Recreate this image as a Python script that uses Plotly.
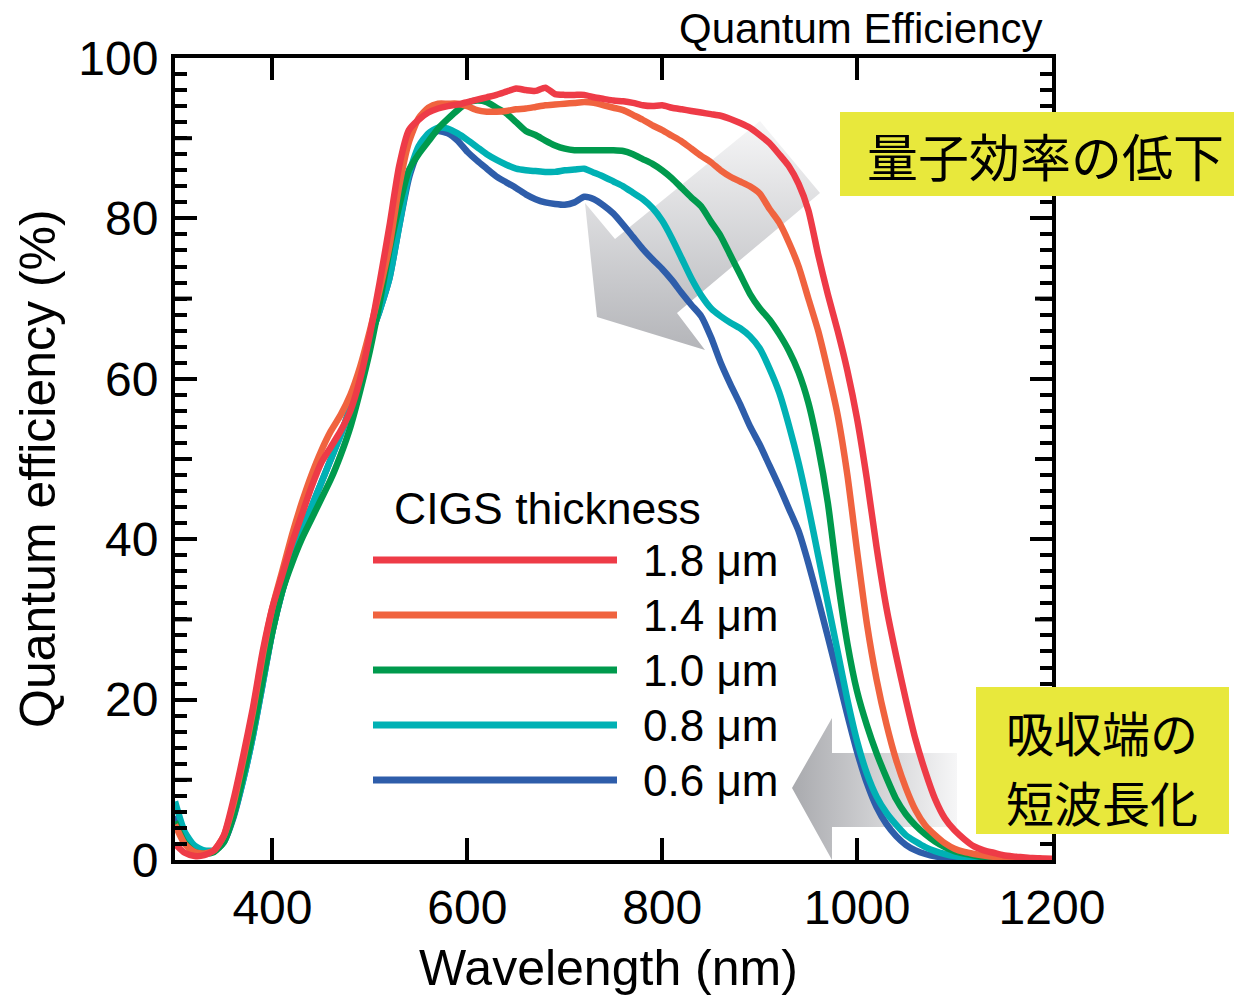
import plotly.graph_objects as go

# ---------------------------------------------------------------------------
# Data: external quantum efficiency (%) of CIGS cells vs. wavelength (nm)
# ---------------------------------------------------------------------------
wavelength_nm = list(range(300, 1201, 10))

qe_1p8um = [
    2.0, 0.9, 0.5, 0.6, 1.2, 3.0, 7.5, 13.0, 19.0, 26.0,
    31.5, 35.5, 39.5, 43.0, 46.5, 49.5, 51.5, 53.5, 56.0, 60.0,
    65.5, 72.0, 79.0, 86.5, 91.0, 92.3, 93.2, 93.7, 94.0, 94.2,
    94.5, 94.8, 95.1, 95.4, 95.8, 96.2, 96.0, 95.9, 96.3, 95.5,
    95.4, 95.4, 95.4, 95.1, 94.9, 94.7, 94.6, 94.4, 94.1, 94.0,
    94.1, 93.8, 93.6, 93.4, 93.2, 93.0, 92.8, 92.4, 91.9, 91.3,
    90.4, 89.4, 88.0, 86.5, 84.3, 81.0, 75.5, 70.5, 66.0, 61.0,
    55.0, 47.5, 39.0, 31.5, 25.5, 20.0, 15.0, 11.0, 7.6, 5.2,
    3.7, 2.6, 1.7, 1.2, 0.9, 0.6, 0.45, 0.35, 0.25, 0.2,
    0.15,
]

qe_1p4um = [
    4.4, 2.0, 1.0, 0.8, 1.2, 3.0, 7.0, 12.5, 18.5, 25.5,
    31.5, 36.0, 40.5, 44.5, 48.0, 51.0, 53.5, 55.5, 58.0, 61.5,
    66.0, 71.0, 76.5, 84.0, 89.5, 92.5, 93.8, 94.3, 94.3, 94.3,
    94.0, 93.5, 93.3, 93.3, 93.4, 93.6, 93.7, 93.9, 94.1, 94.2,
    94.3, 94.4, 94.5, 94.4, 94.1, 93.8, 93.5, 92.9, 92.3, 91.6,
    91.0, 90.3, 89.6, 88.7, 87.8, 87.0, 86.0, 85.2, 84.6, 84.0,
    83.1, 81.2, 79.5, 77.0, 74.0, 70.0, 66.0, 61.0, 55.5, 48.0,
    38.5, 29.5, 22.5, 17.0, 12.5, 9.0, 6.2, 4.3, 3.1, 2.1,
    1.4, 1.0, 0.75, 0.55, 0.4, 0.3, 0.25, 0.2, 0.15, 0.12,
    0.1,
]

qe_1p0um = [
    4.8, 2.2, 1.0, 0.8, 1.0, 2.2, 5.5, 10.5, 16.0, 22.5,
    28.5, 33.5, 37.0, 40.0, 42.5, 45.0, 47.5, 50.5, 54.0, 58.5,
    63.5, 69.5, 76.0, 81.5, 86.0, 88.0, 89.6, 91.2, 92.4, 93.5,
    94.4, 94.7, 94.5, 93.8, 93.1, 92.0, 90.9, 90.4, 89.7, 89.1,
    88.7, 88.5, 88.5, 88.5, 88.5, 88.5, 88.4, 88.0, 87.4, 86.8,
    86.0, 85.0, 83.8, 82.6, 81.5, 79.6, 77.8, 75.4, 73.0, 70.6,
    68.8, 67.4, 65.6, 63.5, 60.8, 57.0, 51.5, 44.5, 35.0, 27.0,
    21.0, 16.8, 13.3, 10.3, 7.6, 5.7, 4.3, 3.2, 2.3, 1.6,
    1.1, 0.8, 0.55, 0.35, 0.25, 0.2, 0.15, 0.1, 0.08, 0.06,
    0.05,
]

qe_0p8um = [
    7.3, 3.5, 1.8, 1.2, 1.2, 2.3, 5.5, 10.0, 15.5, 22.0,
    28.5, 33.5, 37.5, 41.0, 44.0, 47.0, 50.0, 53.0, 56.5, 60.5,
    65.0, 68.5, 72.5, 79.0, 85.5, 89.0, 90.6, 91.3, 91.2, 90.6,
    89.8, 88.9, 88.0, 87.3, 86.7, 86.2, 86.0, 85.9, 85.8, 85.8,
    86.0, 86.1, 86.2, 85.7, 85.2, 84.6, 84.0, 83.2, 82.4, 81.3,
    79.7, 77.5, 75.0, 72.5, 70.4, 68.8, 67.8, 67.0, 66.3, 65.3,
    63.8, 61.3, 58.3, 54.2, 49.5, 44.0, 38.0, 32.0, 26.0, 20.0,
    14.8, 10.8, 7.9, 5.9, 4.4, 3.1, 2.3, 1.6, 1.1, 0.75,
    0.5, 0.35, 0.25, 0.18, 0.12, 0.1, 0.08, 0.06, 0.05, 0.04,
    0.03,
]

qe_0p6um = [
    5.5, 2.8, 1.4, 1.0, 1.1, 2.2, 5.3, 10.0, 15.5, 22.0,
    28.5, 33.5, 37.5, 41.0, 44.0, 47.0, 50.0, 53.0, 56.5, 60.5,
    65.0, 68.5, 72.5, 79.0, 85.0, 88.5, 90.3, 90.9, 90.6, 89.7,
    88.3, 87.2, 86.2, 85.2, 84.5, 83.8, 83.0, 82.4, 82.0, 81.8,
    81.7, 82.0, 82.7, 82.4, 81.6, 80.6, 79.2, 77.7, 76.2, 74.9,
    73.7, 72.3, 70.7, 69.2, 67.8, 65.2, 62.0, 59.3, 56.8, 54.1,
    51.8, 49.2, 46.6, 43.8, 41.0, 37.0, 32.5, 27.8, 23.0, 18.1,
    13.5, 9.6, 6.6, 4.5, 3.0, 1.9, 1.2, 0.75, 0.45, 0.3,
    0.2, 0.13, 0.1, 0.08, 0.06, 0.05, 0.04, 0.03, 0.02, 0.02,
    0.02,
]

thickness_labels = ["1.8 μm", "1.4 μm", "1.0 μm", "0.8 μm", "0.6 μm"]
thickness_series = [qe_1p8um, qe_1p4um, qe_1p0um, qe_0p8um, qe_0p6um]
thickness_colors = ["#EE3B47", "#F0633F", "#009A4D", "#00B1B4", "#2E5DAA"]

x_tick_values = [400, 600, 800, 1000, 1200]
y_tick_values = [0, 20, 40, 60, 80, 100]

# ---------------------------------------------------------------------------
# Layout geometry (pixels)
# ---------------------------------------------------------------------------
W, H = 1234, 997
PLOT_L, PLOT_R, PLOT_T, PLOT_B = 175, 1052, 58, 860
X_RANGE = [300, 1200]
Y_RANGE = [0, 100]
FONT = "Liberation Sans, Arial, Helvetica, sans-serif"
CJK_FONT = "Noto Sans CJK JP, sans-serif"


def px_to_data(px, py):
    x = X_RANGE[0] + (px - PLOT_L) * (X_RANGE[1] - X_RANGE[0]) / (PLOT_R - PLOT_L)
    y = Y_RANGE[0] + (PLOT_B - py) * (Y_RANGE[1] - Y_RANGE[0]) / (PLOT_B - PLOT_T)
    return x, y


def px_to_paper(px, py):
    return (px - PLOT_L) / (PLOT_R - PLOT_L), (PLOT_B - py) / (PLOT_B - PLOT_T)


def arrow_trace(outline_px, gradient, dark, light):
    pts = [px_to_data(*p) for p in outline_px]
    pts.append(pts[0])
    return go.Scatter(
        x=[p[0] for p in pts], y=[p[1] for p in pts],
        mode="lines", line=dict(width=0, color="rgba(0,0,0,0)"),
        fill="toself",
        fillgradient=dict(type=gradient, colorscale=[[0, dark], [1, light]]),
        hoverinfo="skip", showlegend=False,
    )


fig = go.Figure()

# Gray arrows behind the curves
big_arrow = [(597, 317), (585, 203), (615, 239), (760, 121),
             (820, 193), (677, 313), (705, 350)]
left_arrow = [(792, 788), (832, 718), (832, 753), (957, 753),
              (957, 827), (832, 827), (832, 860)]
fig.add_trace(arrow_trace(big_arrow, "vertical", "#B4B5B9", "#F6F6F7"))
fig.add_trace(arrow_trace(left_arrow, "horizontal", "#A9AAAE", "#F6F6F7"))

# QE curves (thinnest first so the thick-absorber curve sits on top)
for label, qe, color in reversed(list(zip(thickness_labels, thickness_series, thickness_colors))):
    fig.add_trace(go.Scatter(
        x=wavelength_nm, y=qe, name=label, mode="lines",
        line=dict(color=color, width=6.5, shape="spline", smoothing=0.6),
        showlegend=False, hoverinfo="skip",
    ))

shapes = []
annotations = []

# Medium (10 %) tick marks on both vertical sides
for v in [10, 30, 50, 70, 90]:
    for anchor, a, b in [(0, 0, 17), (1, -17, 0)]:
        shapes.append(dict(type="line", xref="paper", yref="y", xsizemode="pixel",
                           xanchor=anchor, x0=a, x1=b, y0=v, y1=v,
                           line=dict(color="black", width=4)))

# Hand-drawn legend
legend_y_px = [560, 615, 670, 725, 780]
lx0, _ = px_to_paper(373, 0)
lx1, _ = px_to_paper(617, 0)
tx, _ = px_to_paper(641, 0)
for label, color, ypx in zip(thickness_labels, thickness_colors, legend_y_px):
    _, yp = px_to_paper(0, ypx)
    shapes.append(dict(type="line", xref="paper", yref="paper", x0=lx0, x1=lx1,
                       y0=yp, y1=yp, line=dict(color=color, width=7)))
    annotations.append(dict(text=label, xref="paper", yref="paper", x=tx, y=yp,
                            xanchor="left", yanchor="middle", showarrow=False,
                            font=dict(family=FONT, size=44, color="black")))
cx, cy = px_to_paper(392, 508)
annotations.append(dict(text="CIGS thickness", xref="paper", yref="paper", x=cx, y=cy,
                        xanchor="left", yanchor="middle", showarrow=False,
                        font=dict(family=FONT, size=44.5, color="black")))

# Yellow callout boxes
box1 = (840, 112, 1234, 196)
box2 = (976, 687, 1229, 834)
for (x0, y0, x1, y1) in [box1, box2]:
    px0, py1 = px_to_paper(x0, y0)
    px1, py0 = px_to_paper(x1, y1)
    shapes.append(dict(type="rect", xref="paper", yref="paper", x0=px0, x1=px1,
                       y0=py0, y1=py1, fillcolor="#E8E83C", line=dict(width=0),
                       layer="above"))

for text, (xp, yp), size in [("量子効率の低下", (1045, 155), 51),
                             ("吸収端の", (1102, 731), 48),
                             ("短波長化", (1102, 801), 48)]:
    ax_, ay_ = px_to_paper(xp, yp)
    annotations.append(dict(text=text, xref="paper", yref="paper", x=ax_, y=ay_,
                            xanchor="center", yanchor="middle", showarrow=False,
                            font=dict(family=CJK_FONT, size=size, color="black")))

# Axis titles and header
tx_, ty_ = px_to_paper(608, 968)
annotations.append(dict(text="Wavelength (nm)", xref="paper", yref="paper", x=tx_, y=ty_,
                        xanchor="center", yanchor="middle", showarrow=False,
                        font=dict(family=FONT, size=50, color="black")))
tx_, ty_ = px_to_paper(38, 469)
annotations.append(dict(text="Quantum efficiency (%)", xref="paper", yref="paper", x=tx_, y=ty_,
                        xanchor="center", yanchor="middle", textangle=-90, showarrow=False,
                        font=dict(family=FONT, size=50, color="black")))
tx_, ty_ = px_to_paper(1044, 28)
annotations.append(dict(text="Quantum Efficiency", xref="paper", yref="paper", x=tx_, y=ty_,
                        xanchor="right", yanchor="middle", showarrow=False,
                        font=dict(family=FONT, size=42, color="black")))

axis_common = dict(
    showgrid=False, zeroline=False, showline=True, linecolor="black", linewidth=4,
    mirror="ticks", ticks="inside", tickcolor="black", tickwidth=4, ticklen=22,
    tickfont=dict(family=FONT, size=48, color="black"),
)

fig.update_layout(
    width=W, height=H,
    margin=dict(l=PLOT_L, r=W - PLOT_R, t=PLOT_T, b=H - PLOT_B, pad=0),
    paper_bgcolor="white", plot_bgcolor="white",
    xaxis=dict(range=X_RANGE, tickmode="array", tickvals=x_tick_values,
               ticklabelstandoff=2, **axis_common),
    yaxis=dict(range=Y_RANGE, tickmode="array", tickvals=y_tick_values,
               ticklabelstandoff=3,
               minor=dict(tickmode="linear", tick0=0, dtick=2, ticks="inside",
                          ticklen=12, tickwidth=4, tickcolor="black"),
               **axis_common),
    shapes=shapes,
    annotations=annotations,
    showlegend=False,
)

fig.write_html("out.html", config={"displayModeBar": False})
